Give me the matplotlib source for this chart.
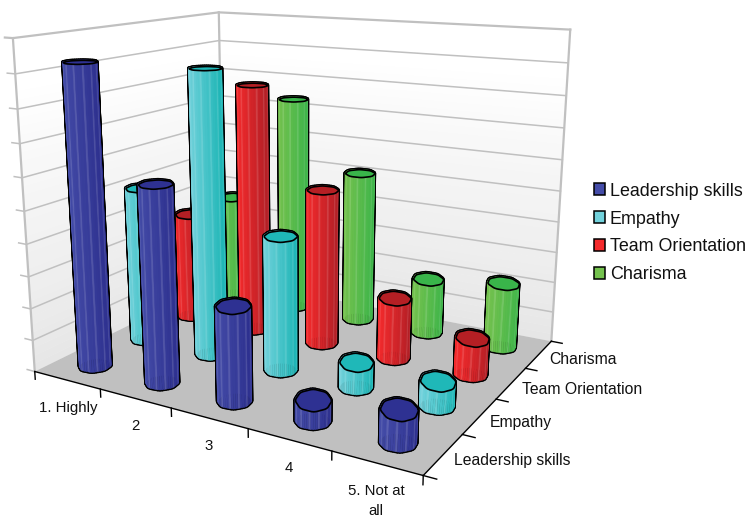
import numpy as np
import matplotlib
matplotlib.use('Agg')
import matplotlib.pyplot as plt
from matplotlib.colors import to_rgb
from matplotlib.patches import Patch
from matplotlib.transforms import Bbox
from mpl_toolkits.mplot3d.art3d import Poly3DCollection

plt.rcParams['font.family'] = ['Liberation Sans', 'DejaVu Sans']

# --- Data ---
categories = ['1. Highly', '2', '3', '4', '5. Not at\nall']
series_names = ['Leadership skills', 'Empathy', 'Team Orientation', 'Charisma']
leadership = [9.28, 6.01, 2.85, 0.62, 0.95]
empathy = [5.05, 8.98, 4.22, 0.79, 0.76]
team = [3.61, 8.16, 5.07, 1.97, 1.17]
charisma = [3.64, 7.36, 5.10, 1.85, 2.14]
series_values = [leadership, empathy, team, charisma]

# left side, right side, top cap
series_colors = [('#444CA8', '#2E3190', '#2E3192'),
                 ('#72D2DC', '#1DB6B6', '#1FB8B8'),
                 ('#F42A2C', '#B21F26', '#B51F24'),
                 ('#74C24E', '#3DB54A', '#39B54A')]

Z_TOP = 10
RADIUS = 0.187
FACETS = 48
AZIM = -60.0
GRAY = '#C0C0C0'


def mix(a, b, t):
    return tuple((1 - t) * np.array(to_rgb(a)) + t * np.array(to_rgb(b)))


def ring(x, y, theta, depth):
    """Column outline on the floor plan, stretched along the viewing direction."""
    a = np.radians(AZIM)
    r = RADIUS * (1 + 0.022 * np.cos(8 * theta))
    u, v = r * np.cos(theta), r * np.sin(theta) * depth
    return (x - np.sin(a) * u + np.cos(a) * v,
            y + np.cos(a) * u + np.sin(a) * v)


def draw_cylinder(ax, x, y, height, colors, zorder):
    """One faceted column, black silhouette first and colours on top of it."""
    theta = np.linspace(0, 2 * np.pi, FACETS + 1)
    bx, by = ring(x, y, theta, 1.08)
    # caps open up for the shorter columns
    tx, ty = ring(x, y, theta, 1.5 - 0.06 * height)

    sides, shades = [], []
    for k in range(FACETS):
        sides.append([(bx[k], by[k], 0), (bx[k + 1], by[k + 1], 0),
                      (tx[k + 1], ty[k + 1], height), (tx[k], ty[k], height)])
        u = np.cos(theta[k] + np.pi / FACETS)
        c = mix(colors[0], colors[1], (u + 1) / 2)
        if k % 4 == 1:
            c = mix(c, 'white', 0.13)  # pale vertical streaks
        shades.append(c)

    outline = Poly3DCollection(sides, facecolor='k', edgecolor='k', linewidth=2.3, zsort='average')
    outline.set_zorder(zorder)
    ax.add_collection3d(outline)

    body = Poly3DCollection(sides, facecolors=shades, edgecolors=shades, linewidth=0.3, zsort='average')
    body.set_zorder(zorder + 0.1)
    ax.add_collection3d(body)

    cap = Poly3DCollection([list(zip(tx, ty, np.full_like(tx, height)))],
                           facecolor=colors[2], edgecolor='k', linewidth=1.2)
    cap.set_zorder(zorder + 0.2)
    ax.add_collection3d(cap)


fig = plt.figure(figsize=(7.48, 5.18), dpi=100)
ax = fig.add_subplot(projection='3d', computed_zorder=False)
n_cat, n_ser = len(categories), len(series_names)
ax.set_xlim(0, n_cat, view_margin=0)
ax.set_ylim(0, n_ser, view_margin=0)
ax.set_zlim(0, Z_TOP, view_margin=0)
ax.view_init(elev=14.40, azim=AZIM)
ax.set_proj_type('persp', focal_length=0.3274)
ax.set_box_aspect((1.2739, 1.0180, 1))
ax.set_position([(293.68 - 308.4) / 748, (518 - 209.21 - 308.4) / 518, 616.8 / 748, 616.8 / 518])
ax.set_axis_off()

# Back walls, shaded in thin strips from white at the top to light gray
strips = 40
for s in range(strips):
    z0, z1 = Z_TOP * s / strips, Z_TOP * (s + 1) / strips
    shade = mix('#E6E6E6', '#FFFFFF', min(1, (s + 0.5) / strips * 1.15))
    walls = [[(0, 0, z0), (0, n_ser, z0), (0, n_ser, z1), (0, 0, z1)],
             [(0, n_ser, z0), (n_cat, n_ser, z0), (n_cat, n_ser, z1), (0, n_ser, z1)]]
    wall = Poly3DCollection(walls, facecolor=shade, edgecolor=shade, linewidth=0.3)
    wall.set_zorder(1)
    ax.add_collection3d(wall)

floor = Poly3DCollection([[(0, 0, 0), (n_cat, 0, 0), (n_cat, n_ser, 0), (0, n_ser, 0)]],
                         facecolor=GRAY, edgecolor='none')
floor.set_zorder(2)
ax.add_collection3d(floor)

# Gridlines and wall outline
for z in range(1, Z_TOP):
    ax.plot([-0.12, 0, 0, n_cat], [0, 0, n_ser, n_ser], [z, z, z, z], color=GRAY, lw=1.1, zorder=3)
ax.plot([-0.12, 0, 0, n_cat], [0, 0, n_ser, n_ser], [Z_TOP] * 4, color=GRAY, lw=1.6, zorder=3)
ax.plot([-0.12, 0], [0, 0], [0, 0], color=GRAY, lw=1.1, zorder=3)
for xw, yw in [(0, 0), (0, n_ser), (n_cat, n_ser)]:
    ax.plot([xw, xw], [yw, yw], [0, Z_TOP], color=GRAY, lw=1.6, zorder=3)

# Floor axes with their ticks
ax.plot([0, n_cat, n_cat], [0, 0, n_ser], [0, 0, 0], color='k', lw=1.0, zorder=4)
for i in range(n_cat + 1):
    ax.plot([i, i], [0, 0], [0, -0.25], color='k', lw=1.0, zorder=4)
for j in range(n_ser + 1):
    ax.plot([n_cat, n_cat + 0.14], [j, j], [0, 0], color='k', lw=1.0, zorder=4)

# Columns, farthest row first
order = 10
for j in reversed(range(n_ser)):
    for i in range(n_cat):
        draw_cylinder(ax, i + 0.5, j + 0.5, series_values[j][i], series_colors[j], order)
        order += 1

# Axis labels
cat_pos = [(68, 408), (135, 426), (209, 446), (289, 468), (376, 501)]
for name, (px, py) in zip(categories, cat_pos):
    fig.text(px / 748, 1 - py / 518, name, ha='center', va='center', fontsize=10.8, color='#111111',
             linespacing=1.55)

ser_pos = [(512, 461), (521, 422), (582, 390), (583, 359)]
for name, (px, py) in zip(series_names, ser_pos):
    t = fig.text(px / 748, 1 - py / 518, name, ha='center', va='center', fontsize=11.3, color='#111111')
    t.set_clip_box(Bbox([[0, 0], [642, 518]]))
    t.set_clip_on(True)

handles = [Patch(facecolor=c[0], edgecolor='k', linewidth=1.1) for c in series_colors]
fig.legend(handles, series_names, loc='center left', bbox_to_anchor=(594 / 748, 1 - 233 / 518),
           frameon=False, fontsize=12.9, handlelength=0.64, handleheight=0.64, handletextpad=0.24,
           labelspacing=0.61, borderpad=0, borderaxespad=0, labelcolor='#111111')

fig.savefig('out.png', dpi=100)
